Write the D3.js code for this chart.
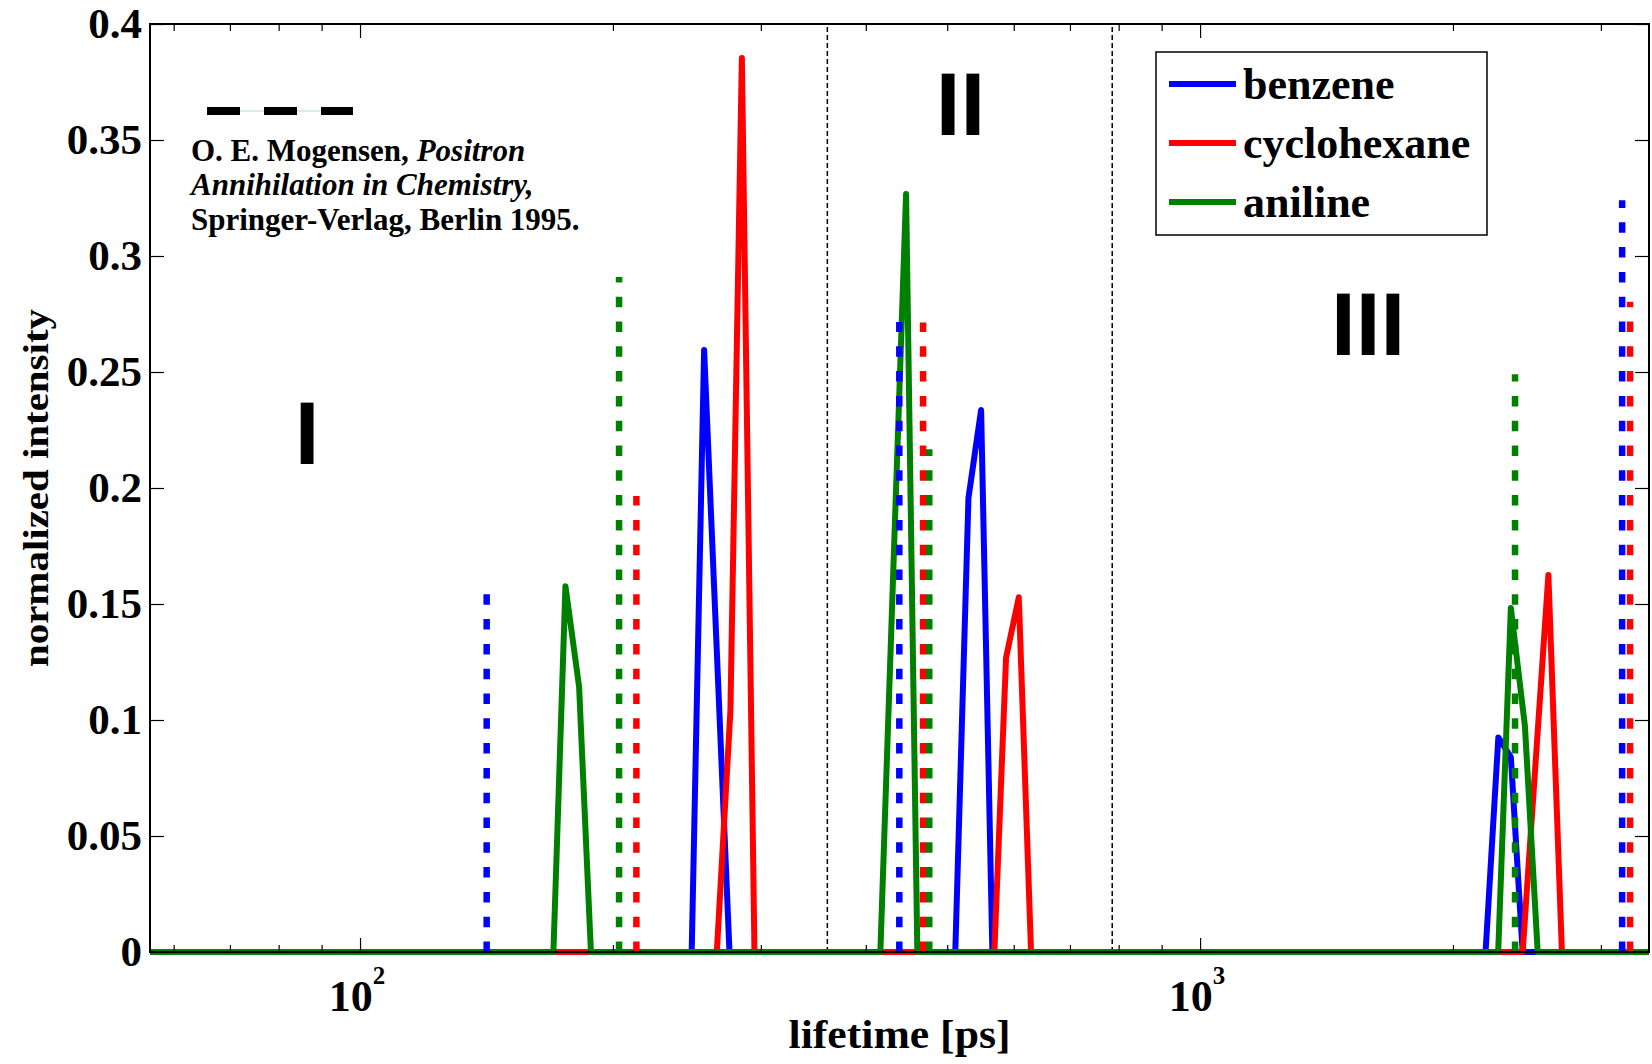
<!DOCTYPE html>
<meta charset="utf-8">
<script src="https://cdn.jsdelivr.net/npm/d3@7"></script>
<style>
body { margin: 0; background: #fff; }
text { font-family: "Liberation Serif", "Times New Roman", serif; }
text.region { font-family: "Liberation Sans", Arial, sans-serif; }
</style>
<body>
<div id="chart"></div>
<script>
// solid curves: lifetime [ps] / normalized intensity (zeros outside the peaks)
var benzeneT = [56.23, 248.2, 256.8, 275.3, 511.2, 530.0, 548.7, 565.9, 2187, 2265, 2344, 2421, 3423]
var benzeneI = [0, 0, 0.2595, 0, 0, 0.1957, 0.2336, 0, 0, 0.0925, 0.084, 0, 0]
var cyclohexaneT = [56.23, 265.9, 276.0, 284.8, 294.8, 569.0, 587.5, 608.4, 629.2, 2421, 2598, 2696, 3423]
var cyclohexaneI = [0, 0, 0.104, 0.3853, 0, 0, 0.1268, 0.1529, 0, 0, 0.1625, 0, 0]
var anilineT = [56.23, 169.9, 175.6, 182.3, 188.3, 416.3, 446.7, 460.7, 2264, 2344, 2436, 2523, 3423]
var anilineI = [0, 0, 0.1577, 0.1143, 0, 0, 0.3267, 0, 0, 0.1483, 0.0975, 0, 0]

// literature values (dotted sticks)
var benzeneStickT = [141.5, 438.5, 3180]
var benzeneStickI = [0.1543, 0.2715, 0.324]
var cyclohexaneStickT = [213.3, 468, 3250]
var cyclohexaneStickI = [0.1965, 0.2713, 0.2803]
var anilineStickT = [203.4, 476, 2371]
var anilineStickI = [0.2909, 0.2167, 0.249]

// region borders
var dividerT = [360, 786]

var names = ["benzene", "cyclohexane", "aniline"]
var yTicks = [0, 0.05, 0.1, 0.15, 0.2, 0.25, 0.3, 0.35, 0.4]
var yTickLabels = ["0", "0.05", "0.1", "0.15", "0.2", "0.25", "0.3", "0.35", "0.4"]
var xMajor = [100, 1000]
var xMajorExp = ["2", "3"]
var xMinor = [60, 70, 80, 90, 200, 300, 400, 500, 600, 700, 800, 900, 2000, 3000]

var colors = ["#0000ff", "#ff0000", "#008000"]

var series = [
  {name: names[0], t: benzeneT, v: benzeneI, st: benzeneStickT, sv: benzeneStickI, color: colors[0]},
  {name: names[1], t: cyclohexaneT, v: cyclohexaneI, st: cyclohexaneStickT, sv: cyclohexaneStickI, color: colors[1]},
  {name: names[2], t: anilineT, v: anilineI, st: anilineStickT, sv: anilineStickI, color: colors[2]}
]

var pL = 150, pR = 1649, pT = 24, pB = 952

var svg = d3.select("#chart").append("svg")
  .attr("width", 1652)
  .attr("height", 1064)
  .style("display", "block")

var x = d3.scaleLog().domain([56.23, 3423]).range([pL, pR])
var y = d3.scaleLinear().domain([0, 0.4]).range([pB, pT])

// region dividers
svg.append("g").selectAll("line")
  .data(dividerT).enter().append("line")
  .attr("x1", d => x(d)).attr("x2", d => x(d))
  .attr("y1", y(0)).attr("y2", y(0.4))
  .attr("stroke", "#000")
  .attr("stroke-width", 1.5)
  .attr("stroke-dasharray", "5,3")

// solid curves
var line = d3.line().x(d => x(d[0])).y(d => y(d[1]))

svg.append("g").selectAll("path")
  .data(series).enter().append("path")
  .attr("d", d => line(d3.zip(d.t, d.v)))
  .attr("fill", "none")
  .attr("stroke", d => d.color)
  .attr("stroke-width", 6)
  .attr("stroke-linejoin", "round")

// dotted sticks
series.forEach(function(s) {
  svg.append("g").selectAll("line")
    .data(d3.zip(s.st, s.sv)).enter().append("line")
    .attr("x1", d => x(d[0])).attr("x2", d => x(d[0]))
    .attr("y1", y(0)).attr("y2", d => y(d[1]))
    .attr("stroke", s.color)
    .attr("stroke-width", 6.5)
    .attr("stroke-dasharray", "10.5,14.3")
})

// axes box and ticks
function tickStyle(g) {
  g.select(".domain").remove()
  g.selectAll(".tick line").attr("stroke", "#000").attr("stroke-width", 1.2)
}

svg.append("g").attr("transform", "translate(0," + pB + ")")
  .call(d3.axisBottom(x).tickValues(xMinor).tickSize(-7).tickFormat(""))
  .call(tickStyle)
svg.append("g").attr("transform", "translate(0," + pB + ")")
  .call(d3.axisBottom(x).tickValues(xMajor).tickSize(-14).tickFormat(""))
  .call(tickStyle)
svg.append("g").attr("transform", "translate(0," + pT + ")")
  .call(d3.axisTop(x).tickValues(xMinor).tickSize(-7).tickFormat(""))
  .call(tickStyle)
svg.append("g").attr("transform", "translate(0," + pT + ")")
  .call(d3.axisTop(x).tickValues(xMajor).tickSize(-14).tickFormat(""))
  .call(tickStyle)
svg.append("g").attr("transform", "translate(" + pR + ",0)")
  .call(d3.axisRight(y).tickValues(yTicks).tickSize(-14).tickFormat(""))
  .call(tickStyle)

var yAxis = svg.append("g").attr("transform", "translate(" + pL + ",0)")
  .call(d3.axisLeft(y).tickValues(yTicks).tickSize(-14).tickPadding(8)
    .tickFormat((d, i) => yTickLabels[i]))
  .call(tickStyle)
yAxis.attr("font-family", null).attr("font-size", null)
yAxis.selectAll("text")
  .attr("font-size", 43)
  .attr("font-weight", "bold")
  .attr("fill", "#000")

svg.append("rect")
  .attr("x", pL).attr("y", pT)
  .attr("width", pR - pL).attr("height", pB - pT)
  .attr("fill", "none")
  .attr("stroke", "#000")
  .attr("stroke-width", 2)

// 10^n labels
var xl = svg.append("g").selectAll("text")
  .data(xMajor).enter().append("text")
  .attr("x", d => x(d) - 3)
  .attr("y", 1011)
  .attr("text-anchor", "middle")
  .attr("font-size", 44)
  .attr("font-weight", "bold")
xl.append("tspan").text("10")
xl.append("tspan")
  .attr("dy", -27)
  .attr("font-size", 25)
  .text((d, i) => xMajorExp[i])

// axis titles
svg.append("text")
  .attr("x", (pL + pR) / 2)
  .attr("y", 1048)
  .attr("text-anchor", "middle")
  .attr("font-size", 41)
  .attr("font-weight", "bold")
  .attr("textLength", 222)
  .attr("lengthAdjust", "spacingAndGlyphs")
  .text("lifetime [ps]")

svg.append("text")
  .attr("transform", "translate(48," + (pT + pB) / 2 + ") rotate(-90)")
  .attr("text-anchor", "middle")
  .attr("font-size", 35)
  .attr("font-weight", "bold")
  .attr("textLength", 358)
  .attr("lengthAdjust", "spacingAndGlyphs")
  .text("normalized intensity")

// region labels
var regions = [["I", 86.5, 0.2103], ["II", 518.5, 0.3522], ["III", 1585, 0.2573]]
svg.append("g").selectAll("text")
  .data(regions).enter().append("text")
  .attr("class", "region")
  .attr("x", d => x(d[1]))
  .attr("y", d => y(d[2]))
  .attr("text-anchor", "middle")
  .attr("font-size", 89)
  .attr("font-weight", "bold")
  .text(d => d[0])

// reference note
svg.append("line")
  .attr("x1", 207).attr("x2", 353).attr("y1", 111).attr("y2", 111)
  .attr("stroke", "#add8e6").attr("stroke-width", 1)
svg.append("line")
  .attr("x1", 207).attr("x2", 353).attr("y1", 111).attr("y2", 111)
  .attr("stroke", "#000").attr("stroke-width", 8)
  .attr("stroke-dasharray", "33,24")

var note = svg.append("g").attr("font-size", 31).attr("font-weight", "bold")
var l1 = note.append("text").attr("x", 191).attr("y", 161)
l1.append("tspan").text("O. E. Mogensen, ")
l1.append("tspan").attr("font-style", "italic").text("Positron")
note.append("text").attr("x", 191).attr("y", 195)
  .attr("font-style", "italic").text("Annihilation in Chemistry,")
note.append("text").attr("x", 191).attr("y", 230)
  .text("Springer-Verlag, Berlin 1995.")

// legend
var lg = svg.append("g")
lg.append("rect")
  .attr("x", 1156).attr("y", 52)
  .attr("width", 331).attr("height", 183)
  .attr("fill", "#fff")
  .attr("stroke", "#000")
  .attr("stroke-width", 1.5)
var item = lg.selectAll(".item")
  .data(series).enter().append("g")
  .attr("transform", (d, i) => "translate(0," + (84 + i * 59) + ")")
item.append("line")
  .attr("x1", 1169).attr("x2", 1236)
  .attr("stroke", d => d.color)
  .attr("stroke-width", 6)
item.append("text")
  .attr("x", 1243).attr("y", 15)
  .attr("font-size", 44)
  .attr("font-weight", "bold")
  .text(d => d.name)
</script>
</body>
